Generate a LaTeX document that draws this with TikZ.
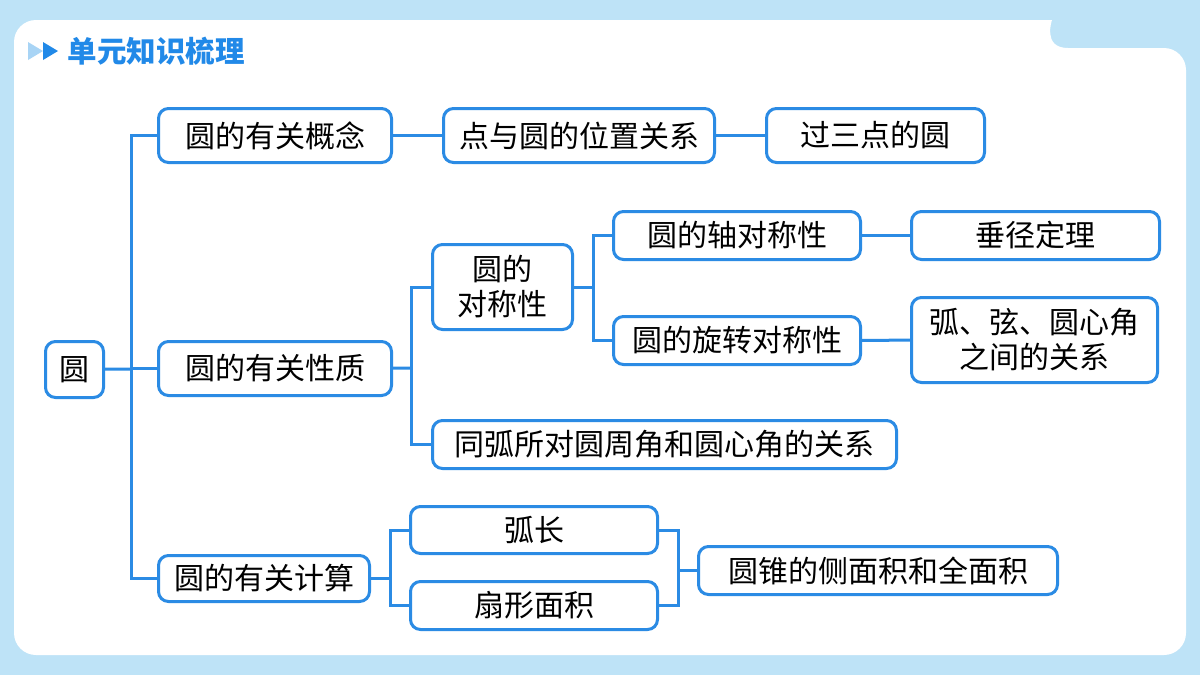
\documentclass[tikz,border=0pt]{standalone}
\usepackage{fontspec}
\newfontfamily\cjk{Noto Sans CJK SC}
\usepackage{tikz}
\definecolor{bgblue}{RGB}{190,227,247}
\definecolor{lineblue}{RGB}{43,139,228}
\definecolor{titleblue}{RGB}{33,137,232}
\definecolor{paleblue}{RGB}{168,212,245}

\begin{document}
\begin{tikzpicture}[x=1pt,y=-1pt]
\tikzset{box/.style = {draw=lineblue, line width=3pt, rounded corners=10pt, fill=white, inner sep=0pt, align=center, font=\cjk\fontsize{30}{35}\selectfont}}
\tikzset{link/.style = {draw=lineblue, line width=3pt}}
% background
\fill[bgblue] (0,0) rectangle (1200,675);
\useasboundingbox (0,0) rectangle (1200,675);
\fill[white, rounded corners=22pt] (14,400) -- (14,20) -- (1030,20) [sharp corners] .. controls (1052,20) and (1042,48) .. (1068,48) [rounded corners=22pt] -- (1186,48) -- (1186,655) -- (14,655) -- cycle;
% title
\fill[paleblue] (28,42) -- (43,51) -- (28,60) -- cycle;
\fill[titleblue] (43,42) -- (58,51) -- (43,60) -- cycle;
\node[anchor=west, text=titleblue, font=\cjk\bfseries\fontsize{29.5}{31}\selectfont] (title) at (64,51) {单元知识梳理};
% main
\node[box, minimum width=58, minimum height=56] (yuan) at (74.5,369.5) {圆};
\node[box, minimum width=233, minimum height=54] (gainian) at (275,135.5) {圆的有关概念};
\node[box, minimum width=271, minimum height=54] (weizhi) at (579,135.5) {点与圆的位置关系};
\node[box, minimum width=218, minimum height=54] (sandian) at (875.5,135.5) {过三点的圆};
\node[box, minimum width=233, minimum height=54] (xingzhi) at (275,368.5) {圆的有关性质};
\node[box, minimum width=211, minimum height=46] (jisuan) at (264,578.5) {圆的有关计算};
% symmetry
\node[box, minimum width=140, minimum height=85] (duicheng) at (502.5,287) {圆的\\对称性};
\node[box, minimum width=247, minimum height=48] (zhou) at (737,235.5) {圆的轴对称性};
\node[box, minimum width=248, minimum height=48] (chuijing) at (1035.5,235.5) {垂径定理};
\node[box, minimum width=247, minimum height=48] (xuanzhuan) at (737,340.5) {圆的旋转对称性};
\node[box, minimum width=246, minimum height=85] (huxian) at (1034.5,340) {弧、弦、圆心角\\之间的关系};
\node[box, minimum width=464, minimum height=48] (tonghu) at (664.5,444.5) {同弧所对圆周角和圆心角的关系};
% computation
\node[box, minimum width=247, minimum height=47] (huchang) at (534,530) {弧长};
\node[box, minimum width=247, minimum height=48] (shanxing) at (534,605.5) {扇形面积};
\node[box, minimum width=359, minimum height=48] (yuanzhui) at (878,570.5) {圆锥的侧面积和全面积};
% trunks
\coordinate (t1) at (131,369);
\coordinate (t2) at (411,368);
\coordinate (t3) at (593,287);
\coordinate (t4) at (390,578.5);
\coordinate (t5) at (678,570.5);
%edges
\draw[link] (yuan) -- (t1);
\draw[link] (t1) |- (gainian);
\draw[link] (t1) |- (xingzhi);
\draw[link] (t1) |- (jisuan);
\draw[link] (gainian) -- (weizhi);
\draw[link] (weizhi) -- (sandian);
%edges 2
\draw[link] (xingzhi) -- (t2);
\draw[link] (t2) |- (duicheng);
\draw[link] (t2) |- (tonghu);
\draw[link] (duicheng) -- (t3);
\draw[link] (t3) |- (zhou);
\draw[link] (t3) |- (xuanzhuan);
\draw[link] (zhou) -- (chuijing);
\draw[link] (xuanzhuan) -- (huxian);
%edges 3
\draw[link] (jisuan) -- (t4);
\draw[link] (t4) |- (huchang);
\draw[link] (t4) |- (shanxing);
\draw[link] (huchang) -| (t5);
\draw[link] (shanxing) -| (t5);
\draw[link] (t5) -- (yuanzhui);

\end{tikzpicture}
\end{document}
